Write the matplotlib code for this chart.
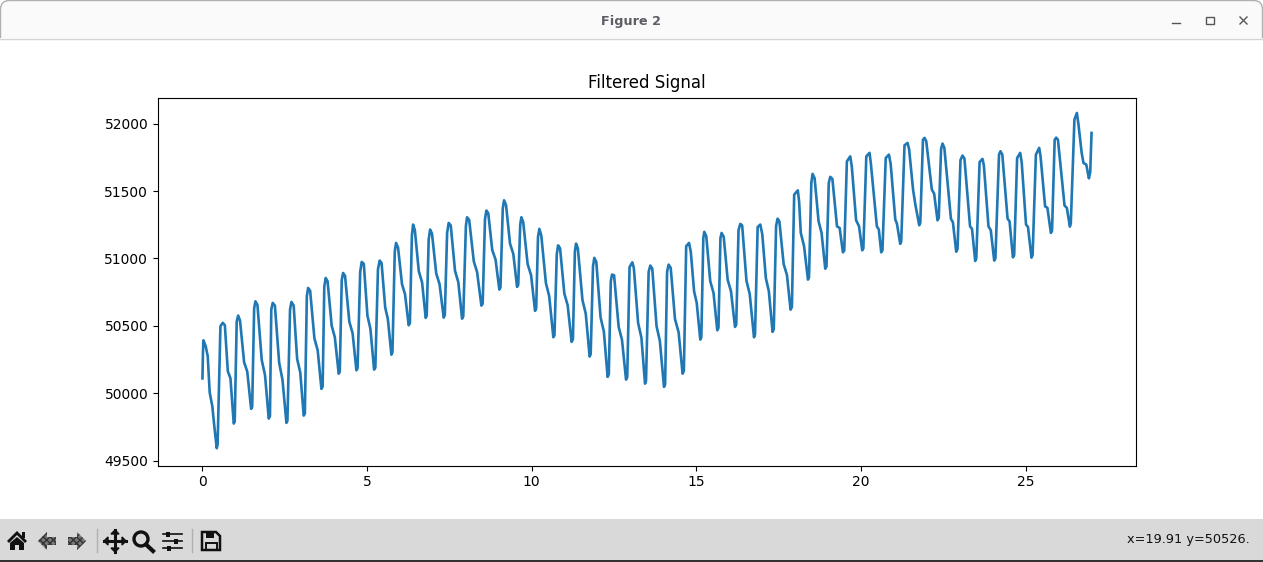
import matplotlib
matplotlib.use("Agg")
import matplotlib.pyplot as plt
from matplotlib.patches import Rectangle, Polygon, Circle, FancyBboxPatch

# signal, one row per cycle
time = [
    0.0, 0.015, 0.03, 0.10, 0.16, 0.22, 0.30, 0.36, 0.434, 0.46,
    0.546, 0.616, 0.68, 0.77, 0.85, 0.95, 0.98,
    1.04, 1.084, 1.14, 1.265, 1.36, 1.478, 1.51,
    1.57, 1.609, 1.67, 1.80, 1.90, 2.013, 2.05,
    2.09, 2.134, 2.20, 2.33, 2.43, 2.55, 2.58,
    2.66, 2.702, 2.77, 2.875, 2.97, 3.075, 3.11,
    3.17, 3.209, 3.27, 3.40, 3.50, 3.613, 3.65,
    3.70, 3.743, 3.80, 3.925, 4.02, 4.138, 4.17,
    4.23, 4.271, 4.33, 4.46, 4.56, 4.675, 4.71,
    4.79, 4.836, 4.90, 5.01, 5.10, 5.212, 5.25,
    5.33, 5.382, 5.44, 5.55, 5.63, 5.738, 5.77,
    5.84, 5.88, 5.94, 6.06, 6.15, 6.263, 6.30,
    6.36, 6.397, 6.45, 6.57, 6.67, 6.779, 6.81,
    6.87, 6.913, 6.97, 7.10, 7.20, 7.326, 7.36,
    7.43, 7.477, 7.54, 7.67, 7.77, 7.884, 7.92,
    8.00, 8.036, 8.10, 8.24, 8.34, 8.47, 8.51,
    8.58, 8.622, 8.68, 8.80, 8.90, 9.016, 9.05,
    9.12, 9.159, 9.22, 9.34, 9.44, 9.554, 9.59,
    9.65, 9.684, 9.74, 9.875, 9.98, 10.10, 10.135,
    10.19, 10.231, 10.29, 10.43, 10.53, 10.656, 10.69,
    10.76, 10.799, 10.86, 10.99, 11.09, 11.211, 11.25,
    11.31, 11.345, 11.40, 11.54, 11.64, 11.758, 11.79,
    11.86, 11.90, 11.96, 12.09, 12.19, 12.304, 12.34,
    12.40, 12.438, 12.50, 12.64, 12.74, 12.863, 12.90,
    12.97, 13.054, 13.10, 13.23, 13.33, 13.44, 13.47,
    13.55, 13.60, 13.66, 13.79, 13.89, 14.016, 14.05,
    14.11, 14.156, 14.22, 14.35, 14.46, 14.581, 14.62,
    14.69, 14.775, 14.83, 14.93, 15.01, 15.118, 15.15,
    15.21, 15.24, 15.30, 15.42, 15.52, 15.634, 15.67,
    15.73, 15.765, 15.83, 15.95, 16.05, 16.172, 16.21,
    16.28, 16.333, 16.39, 16.52, 16.62, 16.749, 16.78,
    16.86, 16.94, 17.00, 17.11, 17.20, 17.313, 17.35,
    17.42, 17.465, 17.52, 17.65, 17.75, 17.86, 17.90,
    17.97, 18.08, 18.12, 18.17, 18.27, 18.388, 18.42,
    18.49, 18.528, 18.59, 18.71, 18.80, 18.913, 18.95,
    19.02, 19.065, 19.13, 19.27, 19.35, 19.45, 19.49,
    19.57, 19.672, 19.72, 19.85, 19.94, 20.036, 20.07,
    20.16, 20.258, 20.30, 20.48, 20.54, 20.613, 20.65,
    20.75, 20.847, 20.90, 21.04, 21.09, 21.19, 21.22,
    21.32, 21.412, 21.46, 21.58, 21.65, 21.767, 21.80,
    21.88, 21.928, 21.98, 22.15, 22.22, 22.322, 22.36,
    22.43, 22.474, 22.53, 22.73, 22.79, 22.89, 22.93,
    23.02, 23.081, 23.14, 23.31, 23.37, 23.467, 23.50,
    23.60, 23.689, 23.73, 23.87, 23.94, 24.044, 24.08,
    24.19, 24.235, 24.29, 24.45, 24.51, 24.612, 24.65,
    24.74, 24.834, 24.88, 25.01, 25.07, 25.176, 25.21,
    25.31, 25.41, 25.45, 25.59, 25.66, 25.765, 25.80,
    25.88, 25.926, 25.98, 26.18, 26.25, 26.342, 26.37,
    26.48, 26.555, 26.60, 26.70, 26.755, 26.84, 26.92, 26.96, 27.0,
]
signal = [
    50110, 50300, 50392, 50347, 50274, 50005, 49903, 49755, 49592, 49620,
    50497, 50522, 50505, 50163, 50111, 49775, 49790,
    50530, 50576, 50540, 50230, 50161, 49884, 49900,
    50630, 50682, 50655, 50247, 50134, 49812, 49830,
    50620, 50670, 50650, 50225, 50100, 49780, 49795,
    50620, 50677, 50650, 50255, 50154, 49834, 49850,
    50720, 50781, 50760, 50407, 50317, 50032, 50050,
    50790, 50855, 50830, 50500, 50415, 50145, 50160,
    50840, 50892, 50870, 50531, 50444, 50170, 50185,
    50900, 50974, 50960, 50575, 50479, 50175, 50190,
    50920, 50984, 50965, 50635, 50551, 50286, 50305,
    51050, 51115, 51080, 50809, 50736, 50504, 50520,
    51170, 51251, 51210, 50905, 50822, 50559, 50575,
    51140, 51214, 51185, 50888, 50809, 50561, 50580,
    51190, 51263, 51245, 50908, 50823, 50553, 50570,
    51240, 51305, 51285, 50978, 50899, 50650, 50665,
    51290, 51355, 51335, 51062, 50992, 50769, 50785,
    51370, 51431, 51395, 51110, 51033, 50789, 50805,
    51250, 51305, 51270, 50958, 50875, 50611, 50630,
    51160, 51219, 51170, 50817, 50720, 50415, 50430,
    51030, 51097, 51075, 50739, 50653, 50381, 50400,
    51050, 51110, 51075, 50691, 50590, 50272, 50290,
    50940, 51004, 50975, 50563, 50457, 50121, 50140,
    50830, 50880, 50875, 50491, 50397, 50101, 50120,
    50935, 50971, 50930, 50521, 50413, 50071, 50090,
    50900, 50947, 50925, 50497, 50389, 50047, 50065,
    50900, 50954, 50930, 50550, 50452, 50145, 50165,
    51090, 51115, 51050, 50756, 50670, 50398, 50415,
    51150, 51197, 51165, 50832, 50744, 50467, 50485,
    51150, 51189, 51160, 50841, 50757, 50492, 50510,
    51210, 51256, 51245, 50835, 50735, 50415, 50435,
    51233, 51251, 51180, 50853, 50757, 50455, 50475,
    51240, 51295, 51275, 50958, 50877, 50620, 50640,
    51473, 51505, 51420, 51190, 51090, 50843, 50860,
    51560, 51627, 51595, 51276, 51191, 50924, 50940,
    51560, 51605, 51590, 51238, 51226, 51045, 51060,
    51720, 51757, 51680, 51283, 51238, 51060, 51075,
    51757, 51783, 51700, 51238, 51214, 51045, 51060,
    51745, 51770, 51700, 51288, 51258, 51108, 51125,
    51839, 51857, 51810, 51510, 51399, 51246, 51265,
    51880, 51894, 51870, 51510, 51481, 51283, 51300,
    51810, 51852, 51820, 51293, 51268, 51050, 51070,
    51730, 51763, 51740, 51238, 51219, 50981, 51000,
    51715, 51738, 51690, 51238, 51209, 50984, 51000,
    51770, 51795, 51770, 51295, 51275, 51008, 51025,
    51745, 51783, 51710, 51251, 51233, 51006, 51025,
    51770, 51820, 51760, 51386, 51375, 51189, 51205,
    51880, 51896, 51880, 51392, 51375, 51236, 51260,
    52030, 52079, 52000, 51783, 51708, 51696, 51594, 51640, 51931,
]

W, H = 1263, 562
fig = plt.figure(figsize=(W / 100, H / 100), dpi=100)
fig.patch.set_facecolor('white')

# plot area
ax = fig.add_axes([158 / W, 1 - 465.6 / H, (1136 - 158) / W, 368 / H])
ax.plot(time, signal, color='#1f77b4', linewidth=1.9)
ax.set_title('Filtered Signal', pad=7)
ax.set_xlim(-1.35, 28.35)
ax.set_ylim(49463, 52193)
ax.set_xticks([0, 5, 10, 15, 20, 25])
ax.set_yticks([49500, 50000, 50500, 51000, 51500, 52000])

# window frame and toolbar, drawn in pixel coordinates
ui = fig.add_axes([0, 0, 1, 1], zorder=-1)
ui.set_xlim(0, W)
ui.set_ylim(H, 0)
ui.axis('off')

ui.add_patch(FancyBboxPatch((0.5, 0.5), W - 1, 60, boxstyle='round,pad=0,rounding_size=9',
                            fc='#fafafa', ec='#b0b0b0', lw=1))
ui.add_patch(Rectangle((0, 38), W, 30, fc='white', ec='none', zorder=3))
ui.plot([0, W], [38.5, 38.5], color='#d4d4d4', lw=1, zorder=4)
ui.text(631, 21, 'Figure 2', ha='center', va='center', fontsize=9.2,
        fontweight='bold', family='DejaVu Sans', color='#5e5c64')

# window buttons
ui.plot([1172, 1180], [22.5, 22.5], color='#555555', lw=1)
ui.add_patch(Rectangle((1206, 16.5), 7.5, 7.5, fc='none', ec='#555555', lw=1))
ui.plot([1240, 1247], [17, 24], color='#555555', lw=1)
ui.plot([1240, 1247], [24, 17], color='#555555', lw=1)

# toolbar strip
ui.add_patch(Rectangle((0, 519), W, 41, fc='#d9d9d9', ec='none'))
ui.add_patch(Rectangle((0, 560), W, 2, fc='#333333', ec='none'))
ui.plot([96.5, 96.5], [529, 552], color='#b0b0b0', lw=1)
ui.plot([191.5, 191.5], [529, 552], color='#b0b0b0', lw=1)

dk = '#111111'
# home
ui.add_patch(Polygon([(7, 541), (17, 531), (27, 541), (25, 543), (17, 535), (9, 543)], fc=dk))
ui.add_patch(Polygon([(10, 543), (17, 537), (24, 543), (24, 550), (19, 550), (19, 545),
                      (15, 545), (15, 550), (10, 550)], fc=dk))
ui.add_patch(Rectangle((22, 531.5), 3, 6, fc=dk))
# back and forward, greyed out
plt.rcParams['hatch.linewidth'] = 1.0
ui.add_patch(Polygon([(38, 541), (47, 532), (47, 537), (56, 537), (56, 545), (47, 545), (47, 550)],
                     fc='#777777', ec='#333333', hatch='xxxxx', lw=0))
ui.add_patch(Polygon([(86, 541), (77, 532), (77, 537), (68, 537), (68, 545), (77, 545), (77, 550)],
                     fc='#777777', ec='#333333', hatch='xxxxx', lw=0))
# pan
ui.plot([104, 126], [541, 541], color=dk, lw=2.2)
ui.plot([115, 115], [530, 552], color=dk, lw=2.2)
for tip in [[(104, 541), (108, 537), (108, 545)], [(126, 541), (122, 537), (122, 545)],
            [(115, 530), (111, 534), (119, 534)], [(115, 552), (111, 548), (119, 548)]]:
    ui.add_patch(Polygon(tip, fc=dk, ec=dk))
# zoom
ui.add_patch(Circle((141, 539), 7, fc='none', ec=dk, lw=2.4))
ui.plot([146, 153], [544.5, 551], color=dk, lw=3)
# subplots sliders
for yy, xk in [(534, 168), (541, 176), (548, 169)]:
    ui.plot([163, 182], [yy, yy], color=dk, lw=1.2)
    ui.add_patch(Rectangle((xk - 2, yy - 2.5), 4, 5, fc=dk))
# save
ui.add_patch(Polygon([(202, 532), (216, 532), (220, 536), (220, 550), (202, 550)],
                     fc='none', ec=dk, lw=1.8))
ui.add_patch(Rectangle((206, 532), 8, 6, fc=dk))
ui.add_patch(Rectangle((205.5, 543), 11, 7, fc='none', ec=dk, lw=1.4))

ui.text(1250, 539, 'x=19.91 y=50526.', ha='right', va='center', fontsize=9.25, color='#111111')

fig.savefig('out.png', dpi=100)
